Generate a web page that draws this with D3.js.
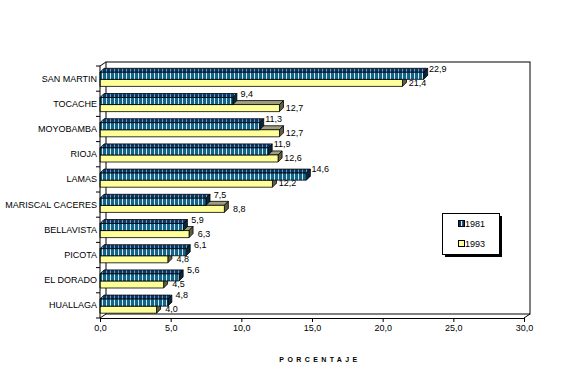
<!DOCTYPE html>
<html>
<head>
<meta charset="utf-8">
<script src="https://cdn.jsdelivr.net/npm/d3@7"></script>
<style>
  body { margin: 0; background: #fff; }
  text { font-family: "Liberation Sans", Arial, sans-serif; }
</style>
</head>
<body>
<div id="viz"></div>
<script>
// data, top to bottom
const provinces = ['SAN MARTIN', 'TOCACHE', 'MOYOBAMBA', 'RIOJA', 'LAMAS',
  'MARISCAL CACERES', 'BELLAVISTA', 'PICOTA', 'EL DORADO', 'HUALLAGA'];
const values1981 = [22.9, 9.4, 11.3, 11.9, 14.6, 7.5, 5.9, 6.1, 5.6, 4.8];
const values1993 = [21.4, 12.7, 12.7, 12.6, 12.2, 8.8, 6.3, 4.8, 4.5, 4.0];
const seriesNames = ['1981', '1993'];
const xTicks = [0, 5, 10, 15, 20, 25, 30];
const axisTitle = 'PORCENTAJE';

const width = 584;
const height = 375;
const margin = {top: 66, right: 60, bottom: 57, left: 100};
const wall = {dx: 6, dy: 4};   // depth of the back wall
const bar = {dx: 4, dy: 4};    // depth of each bar

const fmt = v => d3.format('.1f')(v).replace('.', ',');

const svg = d3.select('#viz')
  .append('svg')
    .attr('width', width)
    .attr('height', height)
    .style('display', 'block');

const xScale = d3.scaleLinear()
  .domain([0, 30])
  .range([margin.left, width - margin.right]);

const yScale = d3.scaleBand()
  .domain(provinces)
  .range([margin.top, height - margin.bottom]);

const x0 = xScale(0), x1 = xScale(30);
const yTop = yScale.range()[0], yBot = yScale.range()[1];

// stripe patterns
const defs = svg.append('defs');
const stripes = (id, base, line) => {
  const p = defs.append('pattern')
    .attr('id', id)
    .attr('patternUnits', 'userSpaceOnUse')
    .attr('width', 4).attr('height', 10);
  p.append('rect').attr('width', 4).attr('height', 10).attr('fill', base);
  p.append('rect').attr('x', 2).attr('width', 1).attr('height', 10).attr('fill', line);
};
stripes('blueFront', '#12648a', '#cfe6f0');
stripes('blueTop', '#0b3764', '#6c98c6');

// walls
const walls = svg.append('g').attr('fill', 'none').attr('stroke', '#000').attr('stroke-width', 1);
walls.append('rect')
  .attr('x', x0 + wall.dx).attr('y', yTop - wall.dy)
  .attr('width', x1 - x0).attr('height', yBot - yTop)
  .attr('fill', '#fff');
walls.append('path')
  .attr('d', `M${x0},${yTop}L${x0 + wall.dx},${yTop - wall.dy}` +
             `M${x0},${yBot}L${x0 + wall.dx},${yBot - wall.dy}` +
             `M${x1},${yBot}L${x1 + wall.dx},${yBot - wall.dy}`);

// bars
const rows = provinces.map((p, i) => ({name: p, a: values1981[i], b: values1993[i]}));
const bw = yScale.bandwidth();
const barH = bw * 0.28;

const box3d = (g, v, y, front, top, side) => {
  const xe = xScale(v);
  const {dx, dy} = bar;
  g.append('path')
    .attr('d', `M${x0},${y}L${x0 + dx},${y - dy}L${xe + dx},${y - dy}L${xe},${y}Z`)
    .attr('fill', top);
  g.append('path')
    .attr('d', `M${xe},${y}L${xe + dx},${y - dy}L${xe + dx},${y + barH - dy}L${xe},${y + barH}Z`)
    .attr('fill', side);
  g.append('rect')
    .attr('x', x0).attr('y', y)
    .attr('width', xe - x0).attr('height', barH)
    .attr('fill', front);
};

const bars = svg.append('g').attr('stroke', '#000').attr('stroke-width', 0.8)
  .attr('stroke-linejoin', 'round');
rows.forEach(d => {
  const y0 = yScale(d.name);
  const g = bars.append('g');
  box3d(g, d.b, y0 + bw * 0.53, '#ffff99', '#9e9e80', '#5e5e42');
  box3d(g, d.a, y0 + bw * 0.25, 'url(#blueFront)', 'url(#blueTop)', '#062540');
});

// value labels
const labels = svg.append('g').attr('font-size', 9).attr('text-anchor', 'middle').attr('fill', '#000');
labels.selectAll('.l81').data(rows).join('text')
  .attr('x', d => xScale(d.a) + 14)
  .attr('y', d => yScale(d.name) + 5.5)
  .text(d => fmt(d.a));
labels.selectAll('.l93').data(rows).join('text')
  .attr('x', d => xScale(d.b) + 15)
  .attr('y', d => yScale(d.name) + 19.5)
  .text(d => fmt(d.b));

// y axis
const yAxis = svg.append('g');
yAxis.append('line')
  .attr('x1', x0).attr('x2', x0).attr('y1', yTop).attr('y2', yBot)
  .attr('stroke', '#000');
yAxis.selectAll('.tick').data(provinces.concat(['end'])).join('line')
  .attr('x1', x0 - 4).attr('x2', x0)
  .attr('y1', (d, i) => i < provinces.length ? yScale(d) : yBot)
  .attr('y2', (d, i) => i < provinces.length ? yScale(d) : yBot)
  .attr('stroke', '#000');
yAxis.selectAll('text').data(provinces).join('text')
  .attr('x', x0 - 3)
  .attr('y', d => yScale(d) + bw / 2 + 3)
  .attr('text-anchor', 'end')
  .attr('font-size', 9)
  .text(d => d);

// x axis
const xAxis = d3.axisBottom(xScale)
  .tickValues(xTicks)
  .tickFormat(fmt)
  .tickSize(4)
  .tickPadding(3);
const xg = svg.append('g')
  .attr('transform', `translate(0, ${yBot})`)
  .call(xAxis);
xg.select('.domain').attr('d', `M${x0},0.5H${x1}`);
xg.selectAll('text').attr('font-size', 9).attr('font-family', '"Liberation Sans", Arial, sans-serif');

svg.append('text')
  .attr('x', (x0 + x1) / 2 + 8)
  .attr('y', 362)
  .attr('text-anchor', 'middle')
  .attr('font-size', 7)
  .attr('font-weight', 'bold')
  .attr('letter-spacing', 3.4)
  .text(axisTitle);

// legend
const lg = svg.append('g').attr('transform', 'translate(442, 213)');
lg.append('rect').attr('x', 3).attr('y', 3).attr('width', 57).attr('height', 41).attr('fill', '#000');
lg.append('rect').attr('x', 0.5).attr('y', 0.5).attr('width', 57).attr('height', 41)
  .attr('fill', '#fff').attr('stroke', '#000');
seriesNames.forEach((s, i) => {
  const ly = 7 + i * 20;
  const sw = lg.append('g').attr('transform', `translate(16, ${ly})`);
  sw.append('rect').attr('x', 0.5).attr('y', 0.5).attr('width', 6).attr('height', 6)
    .attr('fill', i === 0 ? '#0b3764' : '#ffff99').attr('stroke', '#000');
  if (i === 0) sw.append('rect').attr('x', 3).attr('y', 1).attr('width', 1.2).attr('height', 5).attr('fill', '#dfeef5');
  lg.append('text').attr('x', 23).attr('y', ly + 7).attr('font-size', 9).text(s);
});
</script>
</body>
</html>
